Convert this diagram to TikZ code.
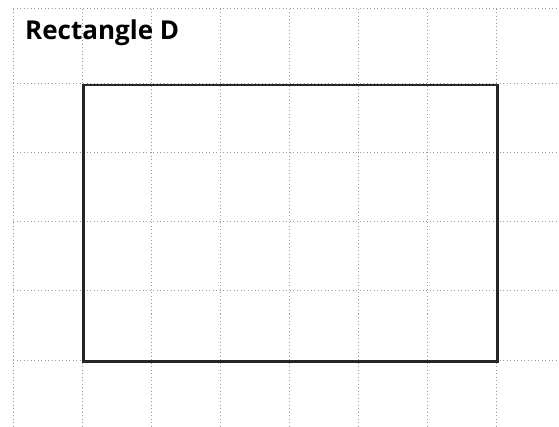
\documentclass[tikz,border=0pt]{standalone}
\usepackage{fontspec}
\setmainfont{Open Sans}
\usetikzlibrary{positioning}

\begin{document}
\begin{tikzpicture}[
		gridline/.style={gray!80,line width=1pt,dash pattern=on 1pt off 2.5pt},
		outline/.style={draw=black!85,line width=2.5pt},
		x=1pt,y=-1pt]
	\useasboundingbox (0,0) rectangle (559,427);
	%% grid
	\foreach \gx in {13,82,151,220,289,358,427,496}
		\draw[gridline] (\gx,9) -- (\gx,427);
	\foreach \gy in {9,84,153,222,291,360}
		\draw[gridline] (13,\gy) -- (559,\gy);
	%% title
	\node[anchor=base west,inner sep=0pt,font=\bfseries\fontsize{26}{30}\selectfont] (title) at (25,40) {Rectangle D};
	%% rectangle
	\node[outline,anchor=north west,inner sep=0pt,minimum width=414pt,minimum height=276pt] (rectD) at (82,84) {};
\end{tikzpicture}
\end{document}
